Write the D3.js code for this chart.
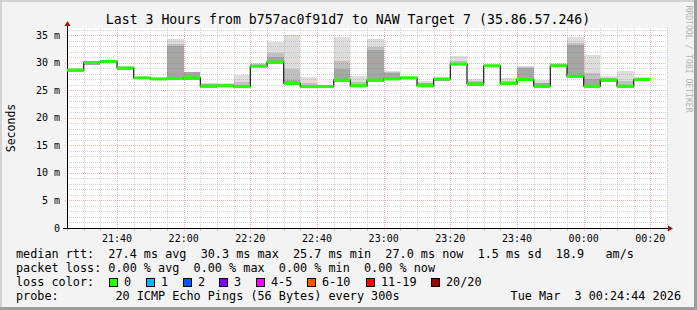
<!DOCTYPE html>
<html>
<head>
<meta charset="utf-8">
<script src="https://cdn.jsdelivr.net/npm/d3@7"></script>
<style>
  html, body { margin: 0; padding: 0; background: #f3f3f3; }
  svg { display: block; font-family: "DejaVu Sans Mono", monospace; }
  text { white-space: pre; }
</style>
</head>
<body>
<div id="chart"></div>
<script>
// Chart data
const titleText = 'Last 3 Hours from b757ac0f91d7 to NAW Target 7 (35.86.57.246)';
const firstSlot = Date.UTC(2026, 2, 2, 21, 25);   // start of first 5 min slot
const viewEnd = Date.UTC(2026, 2, 3, 0, 25);
const slotMinutes = 5;

// median rtt per slot (ms)
const median = [28.7, 30.1, 30.3, 29.1, 27.3, 27.1, 27.2, 27.3, 25.8, 25.85,
                25.7, 29.4, 30.2, 26.3, 25.7, 25.75, 26.9, 25.85, 26.9, 27.1,
                27.3, 25.85, 27.1, 29.8, 26.2, 29.5, 26.3, 27.0, 25.8, 29.5,
                27.6, 25.8, 26.9, 25.8, 27.0];
// lowest / highest ping per slot (light smoke)
const pingLo = [28.4, 29.7, 30.0, 28.7, 27.1, 27.0, 26.9, 26.9, 25.5, 25.6,
                25.4, 29.2, 29.9, 26.0, 25.4, 25.5, 26.6, 25.6, 26.6, 26.9,
                27.1, 25.6, 26.8, 29.6, 25.9, 29.3, 26.0, 26.7, 25.5, 29.3,
                27.3, 25.5, 26.6, 25.5, 26.7];
const pingHi = [29.1, 30.3, 30.6, 29.4, 27.5, 27.3, 34.3, 28.4, 26.4, 26.4,
                27.9, 30.0, 33.9, 35.0, 27.4, 26.0, 34.7, 27.7, 34.4, 28.6,
                27.4, 26.8, 27.3, 31.3, 27.1, 29.7, 27.3, 29.5, 26.9, 30.0,
                34.8, 31.5, 27.7, 28.6, 27.4];
// upper edge of the dense (dark) smoke
const smokeCore = [28.9, 30.2, 30.4, 29.2, 27.4, 27.2, 33.1, 28.3, 26.1, 26.0,
                   26.0, 29.7, 31.0, 26.9, 25.9, 25.9, 28.9, 26.2, 32.3, 28.2,
                   27.4, 26.3, 27.2, 30.0, 26.6, 29.6, 26.6, 29.1, 26.3, 29.7,
                   33.2, 27.1, 27.2, 26.0, 27.1];

const yMajor = [0, 5, 10, 15, 20, 25, 30, 35];

const legendRtt = 'median rtt:  27.4 ms avg  30.3 ms max  25.7 ms min  27.0 ms now  1.5 ms sd  18.9   am/s';
const legendLoss = 'packet loss: 0.00 % avg  0.00 % max  0.00 % min  0.00 % now';
const lossLabels = ['0', '1', '2', '3', '4-5', '6-10', '11-19', '20/20'];
const lossColors = ['#26ff00', '#00b8ff', '#0059ff', '#7e00ff', '#ff00ff', '#ff5500', '#ff0000', '#a10000'];
const lossBoxX = [109, 146, 183, 219, 256, 307, 366, 431];
const probeText = 'probe:        20 ICMP Echo Pings (56 Bytes) every 300s';
const stampText = 'Tue Mar  3 00:24:44 2026';
const watermark = 'RRDTOOL / TOBI OETIKER';

// Layout
const W = 697, H = 310;
const plot = { left: 67, right: 667, top: 28, bottom: 228 };

const svg = d3.select('#chart').append('svg')
  .attr('width', W).attr('height', H);

// canvas + frame
svg.append('rect').attr('width', W).attr('height', H).attr('fill', '#f3f3f3');
svg.append('rect').attr('x', 0).attr('y', 0).attr('width', W).attr('height', 2).attr('fill', '#d2d2d2');
svg.append('rect').attr('x', 0).attr('y', 0).attr('width', 2).attr('height', H).attr('fill', '#d2d2d2');
svg.append('rect').attr('x', 0).attr('y', H - 3).attr('width', W).attr('height', 3).attr('fill', '#9c9c9c');
svg.append('rect').attr('x', W - 3).attr('y', 0).attr('width', 3).attr('height', H).attr('fill', '#9c9c9c');

svg.append('rect')
  .attr('x', plot.left).attr('y', plot.top)
  .attr('width', plot.right - plot.left).attr('height', plot.bottom - plot.top)
  .attr('fill', '#ffffff');

// Scales
const x = d3.scaleUtc()
  .domain([firstSlot, viewEnd])
  .range([plot.left, plot.right]);
const y = d3.scaleLinear()
  .domain([0, 36.36])
  .range([plot.bottom, plot.top]);

const slots = median.map((m, i) => {
  const t0 = new Date(firstSlot + i * slotMinutes * 60000);
  const t1 = new Date(firstSlot + (i + 1) * slotMinutes * 60000);
  return { t0, t1, med: m, lo: pingLo[i], hi: pingHi[i], core: smokeCore[i] };
});
const midTop = d => Math.min(d.hi, d.core + (d.hi - d.core) * 0.25);

// Smoke
const smoke = svg.append('g').attr('shape-rendering', 'crispEdges');
smoke.selectAll('rect.light').data(slots).join('rect')
  .attr('class', 'light')
  .attr('x', d => x(d.t0)).attr('width', d => x(d.t1) - x(d.t0))
  .attr('y', d => y(d.hi)).attr('height', d => y(d.lo) - y(d.hi))
  .attr('fill', '#dddddd');
smoke.selectAll('rect.mid').data(slots).join('rect')
  .attr('class', 'mid')
  .attr('x', d => x(d.t0)).attr('width', d => x(d.t1) - x(d.t0))
  .attr('y', d => y(midTop(d)))
  .attr('height', d => y(d.lo) - y(midTop(d)))
  .attr('fill', '#c0c0c0');
smoke.selectAll('rect.dark').data(slots).join('rect')
  .attr('class', 'dark')
  .attr('x', d => x(d.t0)).attr('width', d => x(d.t1) - x(d.t0))
  .attr('y', d => y(d.core)).attr('height', d => y(d.lo) - y(d.core))
  .attr('fill', '#a6a6a6');

// Grid (drawn over the smoke like rrdtool does, semi transparent)
const grid = svg.append('g').attr('shape-rendering', 'crispEdges');
const yMinor = d3.range(1, 37).filter(v => v % 5 !== 0);
const minorStroke = '#7a7a7a', minorOpacity = 0.32;
const majorStroke = '#ff3c3c', majorOpacity = 0.42;
grid.selectAll('line.ymin').data(yMinor).join('line')
  .attr('x1', plot.left).attr('x2', plot.right)
  .attr('y1', d => Math.round(y(d)) + 0.5).attr('y2', d => Math.round(y(d)) + 0.5)
  .attr('stroke', minorStroke).attr('stroke-opacity', minorOpacity).attr('stroke-dasharray', '1,1');
const xMinor = x.ticks(d3.utcMinute.every(5)).filter(t => t.getUTCMinutes() % 20 !== 0);
grid.selectAll('line.xmin').data(xMinor).join('line')
  .attr('y1', plot.top).attr('y2', plot.bottom)
  .attr('x1', d => Math.round(x(d)) + 0.5).attr('x2', d => Math.round(x(d)) + 0.5)
  .attr('stroke', minorStroke).attr('stroke-opacity', minorOpacity).attr('stroke-dasharray', '1,1');
grid.selectAll('line.ymaj').data(yMajor.filter(v => v > 0)).join('line')
  .attr('x1', plot.left - 2).attr('x2', plot.right)
  .attr('y1', d => Math.round(y(d)) + 0.5).attr('y2', d => Math.round(y(d)) + 0.5)
  .attr('stroke', majorStroke).attr('stroke-opacity', majorOpacity).attr('stroke-dasharray', '1,1');
const xMajor = x.ticks(d3.utcMinute.every(20));
grid.selectAll('line.xmaj').data(xMajor).join('line')
  .attr('y1', plot.top).attr('y2', plot.bottom + 3)
  .attr('x1', d => Math.round(x(d)) + 0.5).attr('x2', d => Math.round(x(d)) + 0.5)
  .attr('stroke', majorStroke).attr('stroke-opacity', majorOpacity).attr('stroke-dasharray', '1,1');

// Axes
const axisG = svg.append('g').attr('shape-rendering', 'crispEdges');
axisG.append('line')
  .attr('x1', plot.left + 0.5).attr('x2', plot.left + 0.5)
  .attr('y1', plot.bottom + 2).attr('y2', plot.top - 4)
  .attr('stroke', '#000');
axisG.append('line')
  .attr('x1', plot.left - 4).attr('x2', plot.right + 2)
  .attr('y1', plot.bottom + 0.5).attr('y2', plot.bottom + 0.5)
  .attr('stroke', '#000');
svg.append('path')
  .attr('d', `M${plot.left - 2.5},${plot.top - 2} L${plot.left + 3.5},${plot.top - 2} L${plot.left + 0.5},${plot.top - 7} Z`)
  .attr('fill', '#a01010');
svg.append('path')
  .attr('d', `M${plot.right + 1},${plot.bottom - 2.5} L${plot.right + 1},${plot.bottom + 3.5} L${plot.right + 6},${plot.bottom + 0.5} Z`)
  .attr('fill', '#a01010');
axisG.selectAll('line.xt').data(xMinor).join('line')
  .attr('x1', d => Math.round(x(d)) + 0.5).attr('x2', d => Math.round(x(d)) + 0.5)
  .attr('y1', plot.bottom + 1).attr('y2', plot.bottom + 3)
  .attr('stroke', '#c8c8c8');

// Y labels
svg.append('g').selectAll('text').data(yMajor).join('text')
  .attr('x', 60).attr('y', d => y(d) + 3.5)
  .attr('text-anchor', 'end')
  .attr('font-size', '10px').attr('fill', '#000')
  .text(d => d === 0 ? '0' : d + ' m');

// X labels
const fmt = d3.utcFormat('%H:%M');
svg.append('g').selectAll('text').data(xMajor).join('text')
  .attr('x', d => x(d)).attr('y', 242)
  .attr('text-anchor', 'middle')
  .attr('font-size', '10px').attr('fill', '#000')
  .text(d => fmt(d));

// Median: thin dark step line, then loss-coloured horizontal bars
const stepLine = d3.line().curve(d3.curveStepAfter)
  .x(d => x(d[0])).y(d => y(d[1]));
const stepPts = slots.map(d => [d.t0, d.med]);
stepPts.push([slots[slots.length - 1].t1, slots[slots.length - 1].med]);
svg.append('path')
  .attr('d', stepLine(stepPts))
  .attr('fill', 'none').attr('stroke', '#202020').attr('stroke-width', 1.2);
svg.append('g').selectAll('line').data(slots).join('line')
  .attr('x1', d => x(d.t0)).attr('x2', d => x(d.t1))
  .attr('y1', d => y(d.med)).attr('y2', d => y(d.med))
  .attr('stroke', lossColors[0]).attr('stroke-width', 3);

// Title
svg.append('text')
  .attr('x', 348).attr('y', 23.5)
  .attr('text-anchor', 'middle')
  .attr('font-size', '13.2px').attr('fill', '#000')
  .text(titleText);

// Y axis title
svg.append('text')
  .attr('transform', 'translate(15,128) rotate(-90)')
  .attr('text-anchor', 'middle')
  .attr('font-size', '11.5px').attr('fill', '#000')
  .text('Seconds');

// Watermark
svg.append('text')
  .attr('transform', 'translate(686,59) rotate(90)')
  .attr('text-anchor', 'middle')
  .attr('font-size', '8.1px').attr('fill', '#b4b4b4')
  .text(watermark);

// Legend
const legFont = '11.8px';
svg.append('text').attr('x', 16).attr('y', 258).attr('font-size', legFont).text(legendRtt);
svg.append('text').attr('x', 16).attr('y', 272).attr('font-size', legFont).text(legendLoss);
svg.append('text').attr('x', 16).attr('y', 286).attr('font-size', legFont).text('loss color:');
const lossG = svg.append('g');
lossG.selectAll('rect').data(lossLabels).join('rect')
  .attr('x', (d, i) => lossBoxX[i] + 0.5).attr('y', 278.5)
  .attr('width', 8).attr('height', 8)
  .attr('fill', (d, i) => lossColors[i])
  .attr('stroke', '#000').attr('stroke-width', 1)
  .attr('shape-rendering', 'crispEdges');
lossG.selectAll('text').data(lossLabels).join('text')
  .attr('x', (d, i) => lossBoxX[i] + 15).attr('y', 286)
  .attr('font-size', legFont)
  .text(d => d);
svg.append('text').attr('x', 16).attr('y', 300).attr('font-size', legFont).text(probeText);
svg.append('text').attr('x', 681).attr('y', 300).attr('font-size', legFont)
  .attr('text-anchor', 'end').text(stampText);
</script>
</body>
</html>
